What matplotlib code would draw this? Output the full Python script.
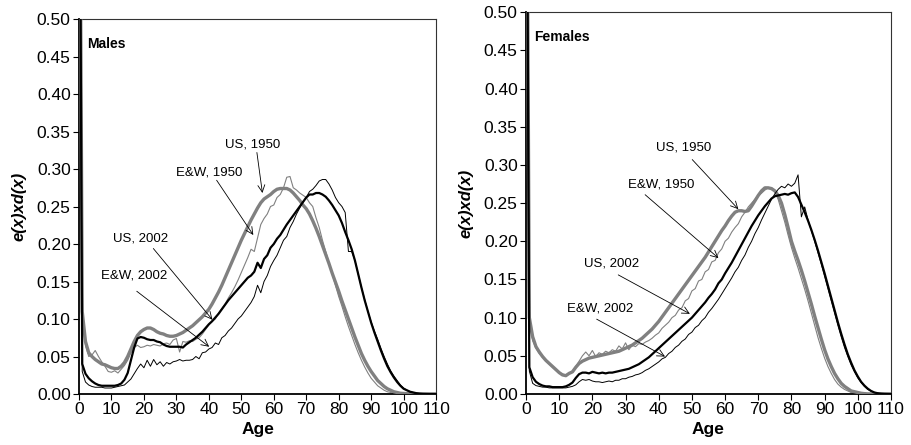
import numpy as np
import matplotlib
matplotlib.use('Agg')
import matplotlib.pyplot as plt
from matplotlib.ticker import FormatStrFormatter

plt.rcParams['font.family'] = ['Liberation Sans', 'DejaVu Sans']

ages = np.arange(0, 111)

# Males, e(x)*d(x) by single year of age 0..110
m_us1950 = [0.95, 0.11, 0.07, 0.055, 0.05, 0.046, 0.043, 0.04, 0.039, 0.037,
            0.035, 0.034, 0.034, 0.037, 0.042, 0.05, 0.06, 0.07, 0.078, 0.083,
            0.086, 0.088, 0.088, 0.086, 0.083, 0.081, 0.08, 0.078, 0.077, 0.077,
            0.078, 0.08, 0.082, 0.085, 0.088, 0.091, 0.095, 0.099, 0.103, 0.108,
            0.113, 0.12, 0.128, 0.136, 0.145, 0.155, 0.165, 0.175, 0.185, 0.195,
            0.205, 0.214, 0.223, 0.232, 0.24, 0.248, 0.255, 0.26, 0.263, 0.266,
            0.27, 0.273, 0.274, 0.274, 0.274, 0.272, 0.268, 0.263, 0.258, 0.252,
            0.247, 0.24, 0.231, 0.221, 0.21, 0.198, 0.186, 0.174, 0.161, 0.149,
            0.137, 0.124, 0.112, 0.1, 0.088, 0.076, 0.065, 0.054, 0.045, 0.037,
            0.03, 0.024, 0.018, 0.014, 0.01, 0.007, 0.005, 0.003, 0.002, 0.001,
            0.0007, 0.0005, 0.0003, 0.0002, 0.0001, 0.0, 0.0, 0.0, 0.0, 0.0, 0.0]
m_ew1950 = [0.95, 0.1, 0.065, 0.05, 0.052, 0.058, 0.05, 0.043, 0.037, 0.03,
            0.029, 0.031, 0.028, 0.033, 0.038, 0.045, 0.055, 0.062, 0.065, 0.062,
            0.063, 0.065, 0.064, 0.066, 0.065, 0.064, 0.067, 0.068, 0.066, 0.072,
            0.074, 0.056, 0.07, 0.069, 0.071, 0.07, 0.073, 0.075, 0.08, 0.086,
            0.092, 0.097, 0.1, 0.108, 0.114, 0.12, 0.128, 0.135, 0.143, 0.152,
            0.162, 0.172, 0.182, 0.193, 0.19, 0.208, 0.226, 0.234, 0.24, 0.25,
            0.252, 0.262, 0.266, 0.275, 0.289, 0.29, 0.275, 0.272, 0.268, 0.265,
            0.262, 0.255, 0.25, 0.235, 0.222, 0.205, 0.19, 0.175, 0.16, 0.145,
            0.13, 0.117, 0.103, 0.09, 0.078, 0.066, 0.055, 0.045, 0.036, 0.028,
            0.021, 0.016, 0.011, 0.008, 0.005, 0.003, 0.002, 0.001, 0.0005, 0.0003,
            0.0002, 0.0001, 0.0, 0.0, 0.0, 0.0, 0.0, 0.0, 0.0, 0.0, 0.0]
m_us2002 = [0.95, 0.04, 0.027, 0.021, 0.017, 0.014, 0.012, 0.011, 0.011, 0.011,
            0.011, 0.011, 0.012, 0.014, 0.019, 0.028, 0.045, 0.062, 0.074, 0.076,
            0.075, 0.073, 0.072, 0.072, 0.07, 0.069, 0.066, 0.064, 0.063, 0.063,
            0.063, 0.063, 0.062, 0.066, 0.069, 0.072, 0.075, 0.079, 0.083, 0.088,
            0.093, 0.097, 0.102, 0.107, 0.113, 0.119, 0.125, 0.13, 0.135, 0.14,
            0.145, 0.15, 0.155, 0.158, 0.163, 0.175, 0.168, 0.18, 0.185, 0.195,
            0.2, 0.207, 0.212, 0.219, 0.226, 0.232, 0.238, 0.244, 0.25, 0.256,
            0.262, 0.266, 0.266, 0.268, 0.268, 0.266, 0.263, 0.258, 0.252, 0.245,
            0.238, 0.228, 0.216, 0.205, 0.193, 0.178, 0.16, 0.142, 0.125, 0.11,
            0.095, 0.082, 0.07, 0.058, 0.047, 0.037, 0.029, 0.022, 0.016, 0.011,
            0.007, 0.005, 0.003, 0.002, 0.001, 0.0005, 0.0002, 0.0001, 0.0, 0.0, 0.0]
m_ew2002 = [0.95, 0.03, 0.016, 0.012, 0.01, 0.009, 0.009, 0.009, 0.008, 0.008,
            0.008, 0.009, 0.01, 0.011, 0.012, 0.016, 0.02, 0.027, 0.034, 0.04,
            0.035, 0.045, 0.037, 0.046, 0.039, 0.043, 0.037, 0.042, 0.04, 0.043,
            0.044, 0.046, 0.044, 0.045, 0.045, 0.046, 0.05, 0.047, 0.055, 0.056,
            0.06, 0.062, 0.068, 0.066, 0.075, 0.078, 0.084, 0.088, 0.094, 0.1,
            0.104, 0.11, 0.116, 0.122, 0.13, 0.145, 0.135, 0.15, 0.158, 0.17,
            0.178, 0.185, 0.195, 0.205, 0.21, 0.222, 0.23, 0.24, 0.248, 0.256,
            0.262, 0.27, 0.273, 0.278, 0.284, 0.286, 0.286, 0.28, 0.272, 0.262,
            0.255, 0.25, 0.242, 0.19, 0.19, 0.178, 0.16, 0.142, 0.126, 0.11,
            0.096, 0.084, 0.073, 0.061, 0.05, 0.04, 0.031, 0.024, 0.018, 0.012,
            0.008, 0.005, 0.003, 0.002, 0.001, 0.0005, 0.0002, 0.0001, 0.0, 0.0, 0.0]

# Females
f_us1950 = [0.95, 0.1, 0.075, 0.062, 0.055, 0.049, 0.044, 0.04, 0.036, 0.032,
            0.028, 0.025, 0.024, 0.027, 0.029, 0.035, 0.04, 0.043, 0.045, 0.047,
            0.048, 0.049, 0.05, 0.051, 0.052, 0.053, 0.054, 0.055, 0.056, 0.058,
            0.06, 0.062, 0.064, 0.067, 0.07, 0.073, 0.077, 0.081, 0.085, 0.09,
            0.095, 0.101, 0.107, 0.113, 0.119, 0.125, 0.131, 0.137, 0.143, 0.149,
            0.155, 0.161, 0.167, 0.173, 0.179, 0.186, 0.193, 0.2, 0.207, 0.214,
            0.22, 0.227, 0.233, 0.238, 0.24, 0.24, 0.239, 0.24, 0.246, 0.253,
            0.26, 0.266, 0.27, 0.27, 0.269, 0.266, 0.26, 0.25, 0.235, 0.218,
            0.2, 0.187, 0.175, 0.162, 0.148, 0.133, 0.118, 0.102, 0.087, 0.072,
            0.058, 0.046, 0.036, 0.027, 0.02, 0.014, 0.01, 0.007, 0.004, 0.003,
            0.002, 0.001, 0.0005, 0.0002, 0.0001, 0.0, 0.0, 0.0, 0.0, 0.0, 0.0]
f_ew1950 = [0.95, 0.095, 0.07, 0.06, 0.053, 0.048, 0.043, 0.039, 0.035, 0.031,
            0.028, 0.026, 0.025, 0.027, 0.03, 0.036, 0.043, 0.05, 0.055, 0.05,
            0.057, 0.049, 0.054, 0.052, 0.056, 0.054, 0.058, 0.056, 0.063, 0.059,
            0.067, 0.058, 0.064, 0.062, 0.066, 0.065, 0.068, 0.07, 0.073, 0.077,
            0.08, 0.086, 0.09, 0.094, 0.1, 0.103, 0.11, 0.113, 0.122, 0.125,
            0.135, 0.138, 0.148, 0.15, 0.16, 0.163, 0.173, 0.175, 0.185, 0.19,
            0.2, 0.204, 0.212, 0.218, 0.223, 0.232, 0.238, 0.245, 0.25, 0.255,
            0.26, 0.263, 0.267, 0.27, 0.27, 0.265, 0.255, 0.24, 0.225, 0.208,
            0.192, 0.178, 0.165, 0.151, 0.137, 0.122, 0.106, 0.09, 0.074, 0.06,
            0.047, 0.036, 0.027, 0.019, 0.013, 0.009, 0.006, 0.004, 0.002, 0.001,
            0.0005, 0.0002, 0.0001, 0.0, 0.0, 0.0, 0.0, 0.0, 0.0, 0.0, 0.0]
f_us2002 = [0.95, 0.035, 0.022, 0.016, 0.013, 0.011, 0.01, 0.01, 0.009, 0.009,
            0.009, 0.009, 0.01, 0.012, 0.015, 0.021, 0.026, 0.028, 0.028, 0.027,
            0.029, 0.028, 0.027, 0.028, 0.027, 0.028, 0.028, 0.029, 0.03, 0.031,
            0.032, 0.033, 0.035, 0.037, 0.039, 0.042, 0.045, 0.048, 0.052, 0.056,
            0.06, 0.064, 0.068, 0.072, 0.076, 0.08, 0.084, 0.088, 0.092, 0.096,
            0.1, 0.105, 0.11, 0.115, 0.12, 0.126, 0.131, 0.137, 0.145, 0.15,
            0.158, 0.165, 0.172, 0.18, 0.188, 0.196, 0.204, 0.212, 0.22, 0.227,
            0.234, 0.24, 0.246, 0.251, 0.256, 0.259, 0.26, 0.261, 0.262, 0.261,
            0.263, 0.264, 0.258, 0.248, 0.238, 0.227, 0.215, 0.202, 0.188, 0.173,
            0.158, 0.142, 0.126, 0.11, 0.094, 0.079, 0.065, 0.052, 0.041, 0.031,
            0.023, 0.016, 0.011, 0.007, 0.004, 0.002, 0.001, 0.0005, 0.0002, 0.0001, 0.0]
f_ew2002 = [0.95, 0.03, 0.014, 0.011, 0.01, 0.009, 0.009, 0.008, 0.008, 0.008,
            0.008, 0.008, 0.008, 0.009, 0.01, 0.012, 0.016, 0.019, 0.018, 0.019,
            0.017, 0.016, 0.016, 0.015, 0.016, 0.017, 0.016, 0.018, 0.018, 0.02,
            0.02, 0.022, 0.023, 0.025, 0.026, 0.028, 0.031, 0.033, 0.036, 0.039,
            0.042, 0.046, 0.048, 0.053, 0.056, 0.061, 0.064, 0.069, 0.072, 0.078,
            0.081, 0.087, 0.09, 0.096, 0.1, 0.107, 0.112, 0.118, 0.124, 0.131,
            0.138, 0.145, 0.152, 0.16, 0.166, 0.175, 0.182, 0.192, 0.2, 0.21,
            0.218, 0.228, 0.237, 0.246, 0.255, 0.262, 0.268, 0.272, 0.27, 0.275,
            0.272, 0.276, 0.287, 0.232, 0.245, 0.228, 0.214, 0.2, 0.185, 0.17,
            0.154, 0.138, 0.122, 0.106, 0.09, 0.075, 0.061, 0.049, 0.038, 0.029,
            0.021, 0.015, 0.01, 0.006, 0.004, 0.002, 0.001, 0.0005, 0.0002, 0.0001, 0.0]

# label text, text position, arrow start, arrow tip (age, value)
m_notes = [
    ('US, 1950', (53.4, 0.333), (54.8, 0.322), (56.5, 0.268)),
    ('E&W, 1950', (40.1, 0.296), (42.4, 0.285), (53.7, 0.212)),
    ('US, 2002', (19.1, 0.207), (22.9, 0.194), (41.1, 0.099)),
    ('E&W, 2002', (17.0, 0.158), (17.8, 0.137), (40.1, 0.063)),
]
f_notes = [
    ('US, 1950', (47.6, 0.323), (50.1, 0.307), (64.0, 0.242)),
    ('E&W, 1950', (40.6, 0.275), (35.9, 0.261), (58.0, 0.178)),
    ('US, 2002', (25.8, 0.171), (27.8, 0.156), (49.4, 0.105)),
    ('E&W, 2002', (22.3, 0.112), (21.3, 0.098), (41.9, 0.049)),
]


def drawPanel(ax, title, us1950, ew1950, us2002, ew2002, notes):
    ax.plot(ages, ew1950, color='#808080', lw=0.8, zorder=2)
    ax.plot(ages, us1950, color='#808080', lw=2.4, zorder=3)
    ax.plot(ages, ew2002, color='black', lw=0.7, zorder=4)
    ax.plot(ages, us2002, color='black', lw=1.6, zorder=5)

    for label, txt, start, tip in notes:
        ax.text(txt[0], txt[1], label, ha='center', va='center', fontsize=9.5)
        ax.annotate('', xy=tip, xytext=start,
                    arrowprops=dict(arrowstyle='->,head_length=0.5,head_width=0.25',
                                    lw=0.6, color='black', shrinkA=0, shrinkB=0))

    ax.text(2.5, 0.467, title, fontsize=10, fontweight='bold', va='center')

    ax.set_xlim(0, 110)
    ax.set_ylim(0, 0.5)
    ax.set_xticks(np.arange(0, 111, 10))
    ax.set_yticks(np.arange(0, 0.51, 0.05))
    ax.yaxis.set_major_formatter(FormatStrFormatter('%.2f'))
    ax.tick_params(direction='out', length=4, width=0.8, labelsize=12.5, pad=2)
    ax.set_xlabel('Age', fontsize=12.5, fontweight='bold', labelpad=3)
    ax.set_ylabel('e(x)xd(x)', fontsize=12, fontweight='bold', fontstyle='italic', labelpad=7)
    for side in ['left', 'bottom']:
        ax.spines[side].set_linewidth(1.3)
    for side in ['top', 'right']:
        ax.spines[side].set_linewidth(0.8)
        ax.spines[side].set_color('#333333')


fig = plt.figure(figsize=(9.11, 4.45), dpi=100)
ax1 = fig.add_axes([0.0867, 0.1146, 0.392, 0.8427])
ax2 = fig.add_axes([0.5774, 0.1146, 0.4006, 0.858])

drawPanel(ax1, 'Males', m_us1950, m_ew1950, m_us2002, m_ew2002, m_notes)
drawPanel(ax2, 'Females', f_us1950, f_ew1950, f_us2002, f_ew2002, f_notes)

fig.savefig('out.png', dpi=100)
